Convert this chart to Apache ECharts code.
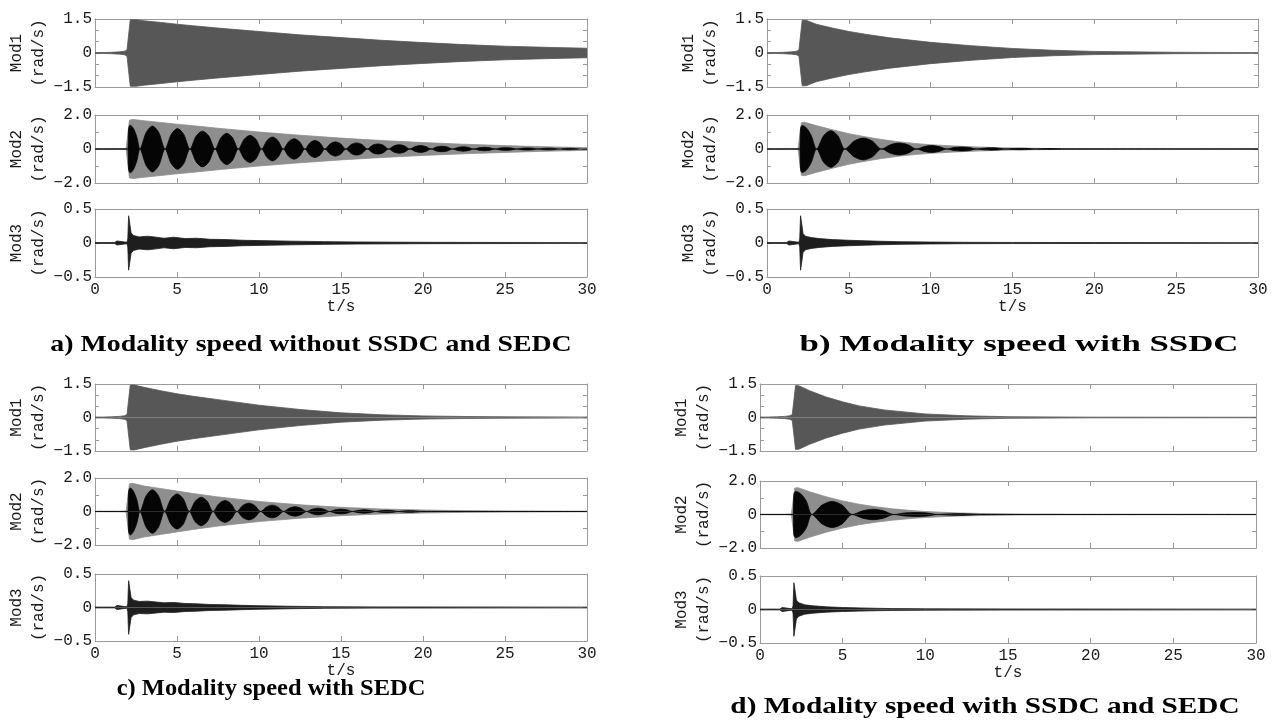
<!DOCTYPE html>
<html><head><meta charset="utf-8">
<script src="https://cdn.jsdelivr.net/npm/echarts@6/dist/echarts.min.js"></script>
<style>html,body{margin:0;padding:0;background:#fff}#c{width:1275px;height:722px}</style>
</head><body><div id="c"></div>
<script>
// ---------------- DATA ----------------
const timeTicks = [0, 5, 10, 15, 20, 25, 30];
const timeTickLabels = ['0', '5', '10', '15', '20', '25', '30'];
const timeName = 't/s';
const modNames = ['Mod1\n(rad/s)', 'Mod2\n(rad/s)', 'Mod3\n(rad/s)'];
const mod1TickValues = [-1.5, 0, 1.5];
const mod1TickLabels = ['\u22121.5', '0', '1.5'];
const mod2TickValues = [-2, 0, 2];
const mod2TickLabels = ['\u22122.0', '0', '2.0'];
const mod3TickValues = [-0.5, 0, 0.5];
const mod3TickLabels = ['\u22120.5', '0', '0.5'];
const captions = [
  'a) Modality speed without SSDC and SEDC',
  'b) Modality speed with SSDC',
  'c) Modality speed with SEDC',
  'd) Modality speed with SSDC and SEDC'
];

// envelopes [t (s), amplitude (rad/s)]
const aMod1 = [[0,0.02],[0.5,0.02],[1,0.03],[1.5,0.05],[1.8,0.08],[1.95,0.13],[2.05,0.18],[2.15,1.47],[2.5,1.47],[3,1.42],[4,1.35],[5,1.27],[6,1.2],[7.5,1.1],[10,0.95],[12.5,0.8],[15,0.68],[17.5,0.56],[20,0.46],[22.5,0.37],[25,0.3],[27.5,0.25],[30,0.21]];
const bMod1 = [[0,0.02],[0.5,0.02],[1,0.03],[1.5,0.05],[1.8,0.08],[1.95,0.13],[2.05,0.18],[2.15,1.45],[2.4,1.44],[3,1.27],[4,1.1],[5,0.95],[6,0.83],[7.5,0.67],[10,0.47],[12.5,0.32],[15,0.2],[17.5,0.12],[20,0.07],[25,0.03],[30,0.02]];
const cMod1 = [[0,0.02],[0.5,0.02],[1,0.03],[1.5,0.05],[1.8,0.08],[1.95,0.13],[2.05,0.18],[2.15,1.45],[2.4,1.45],[3,1.35],[4,1.2],[5,1.06],[6,0.95],[7.5,0.8],[10,0.55],[12.5,0.36],[15,0.21],[17.5,0.12],[20,0.07],[22.5,0.045],[25,0.03],[30,0.02]];
const dMod1 = [[0,0.02],[0.5,0.02],[1,0.03],[1.5,0.05],[1.8,0.08],[1.95,0.13],[2.05,0.18],[2.15,1.43],[2.35,1.42],[3,1.2],[4,0.92],[5,0.7],[6,0.52],[7.5,0.34],[10,0.16],[12.5,0.075],[15,0.035],[20,0.015],[30,0.01]];

const aMod2Outer = [[0,0.008],[1.5,0.01],[1.9,0.03],[2.02,0.08],[2.1,1.7],[2.3,1.74],[3,1.66],[4,1.56],[5,1.46],[6,1.37],[7.5,1.22],[10,1.0],[12.5,0.81],[15,0.64],[17.5,0.5],[20,0.38],[22.5,0.28],[25,0.2],[27.5,0.13],[30,0.08]];
const bMod2Outer = [[0,0.008],[1.5,0.01],[1.9,0.03],[2.02,0.08],[2.1,1.55],[2.3,1.57],[3,1.38],[4,1.13],[5,0.9],[6,0.72],[7,0.56],[8,0.43],[9,0.33],[10,0.25],[12,0.15],[14,0.08],[16,0.045],[18,0.025],[20,0.012],[25,0.006],[30,0.004]];
const cMod2Outer = [[0,0.008],[1.5,0.01],[1.9,0.03],[2.02,0.08],[2.1,1.65],[2.3,1.68],[3,1.52],[4,1.37],[5,1.22],[6,1.07],[7.5,0.87],[10,0.6],[12.5,0.4],[15,0.25],[17.5,0.15],[20,0.09],[22.5,0.05],[25,0.03],[30,0.01]];
const dMod2Outer = [[0,0.008],[1.5,0.01],[1.9,0.03],[2.02,0.08],[2.1,1.58],[2.3,1.6],[3,1.36],[4,1.06],[5,0.81],[6,0.61],[7,0.46],[8,0.34],[9,0.25],[10,0.18],[12,0.09],[14,0.045],[16,0.02],[20,0.008],[30,0.004]];

const aMod2Lobes = [[0,0.004],[2.0,0.004],[2.05,1.2],[2.15,1.4],[2.35,1.2],[2.55,0.7],[2.74,0],
 [3.12,0.97],[3.5,1.35],[3.89,0.97],[4.27,0],[4.65,0.86],[5.03,1.2],[5.41,0.86],[5.79,0],
 [6.17,0.76],[6.55,1.05],[6.94,0.76],[7.32,0],[7.68,0.66],[8.03,0.92],[8.39,0.66],[8.74,0],
 [9.1,0.58],[9.45,0.8],[9.81,0.58],[10.16,0],[10.49,0.5],[10.82,0.7],[11.15,0.5],[11.48,0],
 [11.81,0.43],[12.14,0.6],[12.47,0.43],[12.8,0],[13.1,0.36],[13.41,0.5],[13.72,0.36],[14.02,0],
 [14.34,0.3],[14.66,0.42],[14.98,0.3],[15.3,0],[15.62,0.26],[15.95,0.36],[16.28,0.26],[16.6,0],
 [16.92,0.22],[17.25,0.3],[17.58,0.22],[17.9,0],[18.22,0.18],[18.55,0.25],[18.88,0.18],[19.2,0],
 [19.52,0.14],[19.85,0.2],[20.18,0.14],[20.5,0],[20.82,0.12],[21.15,0.16],[21.48,0.12],[21.8,0],
 [22.12,0.09],[22.45,0.13],[22.78,0.09],[23.1,0],[23.42,0.07],[23.75,0.1],[24.08,0.07],[24.4,0],
 [24.72,0.06],[25.05,0.08],[25.38,0.06],[25.7,0],[26.02,0.045],[26.35,0.06],[26.68,0.045],[27.0,0],
 [27.32,0.036],[27.65,0.05],[27.98,0.036],[28.3,0],[28.62,0.03],[28.95,0.04],[29.28,0.03],[29.6,0.005],[30,0.02]];
const bMod2Lobes = [[0,0.004],[2.0,0.004],[2.05,1.2],[2.15,1.38],[2.4,1.25],[2.7,0.8],[3.03,0],
 [3.46,0.78],[3.9,1.08],[4.33,0.78],[4.76,0],[5.32,0.46],[5.88,0.64],[6.44,0.46],[7.0,0],
 [7.54,0.25],[8.07,0.35],[8.61,0.25],[9.14,0],[9.6,0.14],[10.06,0.2],[10.52,0.14],[10.98,0],
 [11.44,0.09],[11.89,0.12],[12.35,0.09],[12.8,0],[13.25,0.05],[13.7,0.07],[14.15,0.05],[14.6,0],
 [15.05,0.03],[15.5,0.04],[15.95,0.03],[16.4,0],[16.85,0.018],[17.3,0.025],[17.75,0.018],[18.2,0.004],[30,0.004]];
const cMod2Lobes = [[0,0.004],[2.0,0.004],[2.05,1.2],[2.15,1.4],[2.35,1.2],[2.55,0.7],[2.74,0],
 [3.12,0.94],[3.5,1.3],[3.87,0.94],[4.25,0],[4.63,0.76],[5.0,1.05],[5.38,0.76],[5.75,0],
 [6.11,0.61],[6.48,0.85],[6.84,0.61],[7.2,0],[7.56,0.47],[7.93,0.65],[8.29,0.47],[8.65,0],
 [9.01,0.36],[9.38,0.5],[9.74,0.36],[10.1,0],[10.45,0.27],[10.8,0.38],[11.15,0.27],[11.5,0],
 [11.85,0.2],[12.2,0.28],[12.55,0.2],[12.9,0],[13.25,0.14],[13.6,0.2],[13.95,0.14],[14.3,0],
 [14.65,0.1],[15.0,0.14],[15.35,0.1],[15.7,0],[16.05,0.07],[16.4,0.1],[16.75,0.07],[17.1,0],
 [17.45,0.05],[17.8,0.07],[18.15,0.05],[18.5,0],[18.85,0.036],[19.2,0.05],[19.55,0.036],[19.9,0.004],[30,0.004]];
const dMod2Lobes = [[0,0.004],[2.0,0.004],[2.05,1.2],[2.15,1.38],[2.45,1.25],[2.8,0.8],[3.14,0],
 [3.75,0.56],[4.36,0.78],[4.97,0.56],[5.58,0],[6.21,0.22],[6.84,0.31],[7.47,0.22],[8.1,0],
 [8.76,0.09],[9.43,0.12],[10.09,0.09],[10.75,0],[11.39,0.036],[12.03,0.05],[12.66,0.036],[13.3,0.004],[30,0.004]];

const aMod3 = [[0,0.006],[1.2,0.006],[1.26,0.03],[1.34,0.03],[1.4,0.006],[1.95,0.01],[2.0,0.06],[2.05,0.4],[2.1,0.42],[2.14,0.25],[2.2,0.15],[2.35,0.11],[2.7,0.09],[3.2,0.1],[3.6,0.09],[4.2,0.07],[4.8,0.085],[5.5,0.065],[6.2,0.07],[7,0.055],[8,0.05],[9,0.04],[10,0.035],[12,0.027],[14,0.02],[16,0.015],[20,0.01],[25,0.008],[30,0.007]];
const bMod3 = [[0,0.006],[1.2,0.006],[1.26,0.03],[1.34,0.03],[1.4,0.006],[1.95,0.01],[2.0,0.06],[2.05,0.4],[2.1,0.42],[2.14,0.25],[2.2,0.14],[2.35,0.1],[2.7,0.08],[3.2,0.065],[4,0.05],[5,0.04],[6,0.032],[7,0.025],[8,0.02],[10,0.014],[12,0.01],[15,0.008],[20,0.007],[30,0.006]];
const cMod3 = [[0,0.006],[1.2,0.006],[1.26,0.03],[1.34,0.03],[1.4,0.006],[1.95,0.01],[2.0,0.06],[2.05,0.4],[2.1,0.42],[2.14,0.25],[2.2,0.15],[2.35,0.11],[2.7,0.09],[3.2,0.095],[3.6,0.085],[4.2,0.07],[4.8,0.075],[5.5,0.06],[6.2,0.055],[7,0.045],[8,0.04],[9,0.032],[10,0.027],[12,0.018],[14,0.012],[17,0.009],[20,0.008],[30,0.006]];
const dMod3 = [[0,0.006],[1.2,0.006],[1.26,0.03],[1.34,0.03],[1.4,0.006],[1.95,0.01],[2.0,0.06],[2.05,0.4],[2.1,0.42],[2.14,0.25],[2.2,0.14],[2.35,0.1],[2.7,0.07],[3.2,0.055],[4,0.04],[5,0.03],[6,0.024],[7,0.018],[8,0.014],[10,0.01],[15,0.008],[30,0.006]];

// ---------------- LAYOUT / STYLE ----------------
const panelData = [
  {mod1: aMod1, outer: aMod2Outer, lobes: aMod2Lobes, mod3: aMod3},
  {mod1: bMod1, outer: bMod2Outer, lobes: bMod2Lobes, mod3: bMod3},
  {mod1: cMod1, outer: cMod2Outer, lobes: cMod2Lobes, mod3: cMod3},
  {mod1: dMod1, outer: dMod2Outer, lobes: dMod2Lobes, mod3: dMod3}
];
const layout = [
  {left: 95, width: 492, tops: [19, 115, 209], h: 68, cx: 311, cy: 345, sx: 1.16, ng: 21},
  {left: 767, width: 491, tops: [19, 115, 209], h: 68, cx: 1019, cy: 345, sx: 1.45, ng: 21},
  {left: 95, width: 492, tops: [384, 478, 574], h: 67, cx: 271, cy: 689, sx: 1.02, ng: 17},
  {left: 760, width: 496, tops: [384, 481, 576], h: 67, cx: 985, cy: 707, sx: 1.22, ng: 21}
];
const yScale = [
  {min: -1.5, max: 1.5, interval: 0.5, vals: mod1TickValues, labs: mod1TickLabels},
  {min: -2, max: 2, interval: 1, vals: mod2TickValues, labs: mod2TickLabels},
  {min: -0.5, max: 0.5, interval: 0.5, vals: mod3TickValues, labs: mod3TickLabels}
];
const AX = '#9a9a9a', TXT = '#1a1a1a';
const MONO = '"Liberation Mono", "DejaVu Sans Mono", monospace';

const grids = [], xAxes = [], yAxes = [], series = [], graphics = [];

function band(data, idx, color, z, smooth) {
  const up = data.map(p => [p[0], p[1]]);
  const dn = data.map(p => [p[0], -p[1]]);
  [up, dn].forEach(d => series.push({
    type: 'line', xAxisIndex: idx, yAxisIndex: idx, data: d, z: z,
    symbol: 'none', showSymbol: false, silent: true, smooth: smooth || false,
    lineStyle: {color: color, width: 0.8},
    areaStyle: {color: color, opacity: 1}
  }));
}

layout.forEach((L, pi) => {
  const D = panelData[pi];
  for (let m = 0; m < 3; m++) {
    const gi = pi * 3 + m;
    const bottom = m === 2;
    grids.push({left: L.left, top: L.tops[m], width: L.width, height: L.h});
    const axCommon = {
      type: 'value', gridIndex: gi, min: 0, max: 30, interval: 5,
      axisLine: {show: true, onZero: false, lineStyle: {color: AX, width: 1}},
      axisTick: {show: true, inside: true, length: 5, lineStyle: {color: AX}},
      splitLine: {show: false}
    };
    xAxes.push(Object.assign({}, axCommon, {
      position: 'bottom',
      axisLabel: {show: bottom, color: TXT, fontFamily: MONO, fontSize: 16, margin: 5,
        formatter: v => { const i = timeTicks.indexOf(v); return i >= 0 ? timeTickLabels[i] : ''; }},
      name: bottom ? timeName : '', nameLocation: 'middle', nameGap: L.ng,
      nameTextStyle: {color: TXT, fontFamily: MONO, fontSize: 16}
    }));
    xAxes.push(Object.assign({}, axCommon, {position: 'top', axisLabel: {show: false}}));
    const Y = yScale[m];
    const yCommon = {
      type: 'value', gridIndex: gi, min: Y.min, max: Y.max, interval: Y.interval,
      axisLine: {show: true, onZero: false, lineStyle: {color: AX, width: 1}},
      axisTick: {show: true, inside: true, length: 4, lineStyle: {color: AX}},
      splitLine: {show: false}
    };
    yAxes.push(Object.assign({}, yCommon, {
      position: 'left',
      axisLabel: {show: true, color: TXT, fontFamily: MONO, fontSize: 16, margin: 3,
        formatter: v => { const i = Y.vals.findIndex(x => Math.abs(x - v) < 1e-9); return i >= 0 ? Y.labs[i] : ''; }},
      name: modNames[m], nameLocation: 'middle', nameRotate: 90, nameGap: 43,
      nameTextStyle: {color: TXT, fontFamily: MONO, fontSize: 16, lineHeight: 22, align: 'center'}
    }));
    yAxes.push(Object.assign({}, yCommon, {position: 'right', axisLabel: {show: false}}));
    const idx = gi * 2;
    if (m === 0) band(D.mod1, idx, '#575757', 2);
    if (m === 1) { band(D.outer, idx, '#8e8e8e', 2); band(D.lobes, idx, '#050505', 3, 0.3); }
    if (m === 2) band(D.mod3, idx, '#1e1e1e', 2);
  }
  graphics.push({
    type: 'text', x: L.cx, y: L.cy, scaleX: L.sx, z: 10,
    style: {text: captions[pi], align: 'center', verticalAlign: 'middle',
      font: 'bold 24px "Liberation Serif", "Times New Roman", serif', fill: '#000'}
  });
});

const chart = echarts.init(document.getElementById('c'));
chart.setOption({
  animation: false,
  backgroundColor: '#fff',
  grid: grids, xAxis: xAxes, yAxis: yAxes, series: series,
  graphic: {elements: graphics}
});
</script></body></html>
